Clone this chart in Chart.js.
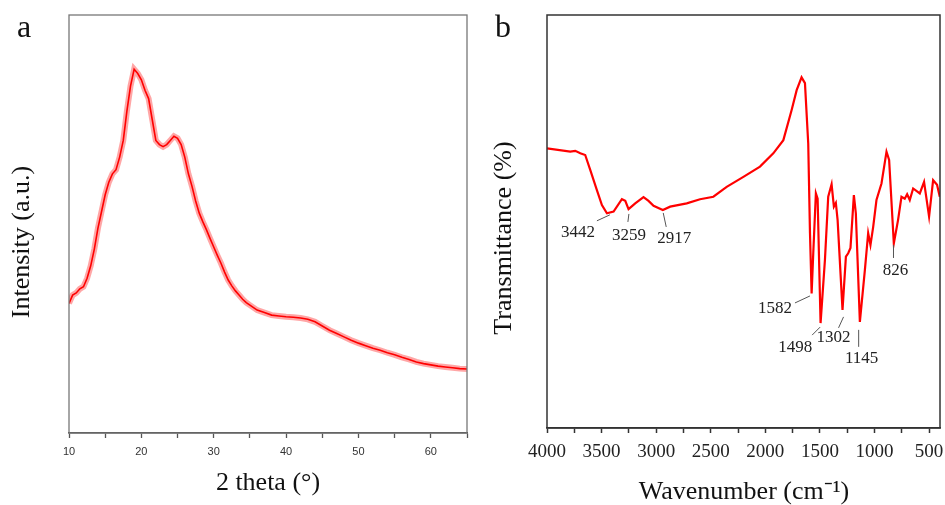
<!DOCTYPE html>
<html lang="en">
<head>
    <meta charset="UTF-8">
    <title>XRD and FTIR</title>
    <script src="https://cdn.jsdelivr.net/npm/chart.js"></script>
    <style>
        body {
            margin: 0;
            padding: 0;
            background: #fff;
        }
        #wrap {
            position: relative;
            width: 945px;
            height: 505px;
        }
        #panel-a, #panel-b {
            position: absolute;
            top: 0;
        }
        #panel-a { left: 0; }
        #panel-b { left: 480px; }
    </style>
</head>
<body>
    <div id="wrap">
        <canvas id="panel-a" width="480" height="505"></canvas>
        <canvas id="panel-b" width="465" height="505"></canvas>
    </div>

    <script>
        // XRD pattern (panel a)
        const xrdAngle = [
            10, 10.5, 11, 11.5, 12, 12.5, 13, 13.5, 14, 14.5, 15, 15.5, 16, 16.5, 17, 17.5,
            18, 18.5, 19, 19.5, 20, 20.5, 21, 21.5, 22, 22.5, 23, 23.5, 24, 24.5, 25, 25.5,
            26, 26.5, 27, 27.5, 28, 28.5, 29, 29.5, 30, 30.5, 31, 31.5, 32, 32.5, 33, 33.5,
            34, 34.5, 35, 35.5, 36, 37, 38, 39, 40, 41, 42, 43, 44, 45, 46, 47, 48, 49, 50,
            51, 52, 53, 54, 55, 56, 57, 58, 59, 60, 61, 62, 63, 64, 65
        ];
        const xrdIntensity = [
            31, 33, 33.5, 34.5, 35, 37, 40, 44, 49, 53, 57, 60, 62, 63, 66, 70,
            77, 83, 87, 86, 84.5, 82, 80, 75, 70, 69, 68.5, 69, 70, 71, 70.5, 69,
            66, 62, 59, 55.5, 52.6, 50.5, 48.6, 46.5, 44.5, 42.5, 40.6, 38.5, 36.6, 35.2, 34, 33,
            32, 31.2, 30.6, 30, 29.4, 28.8, 28.2, 28, 27.8, 27.7, 27.5, 27.2, 26.6, 25.6, 24.6, 23.8, 23, 22.2, 21.5,
            20.9, 20.3, 19.8, 19.2, 18.7, 18.1, 17.6, 17, 16.6, 16.3, 16, 15.8, 15.6, 15.4, 15.3
        ];

        // FTIR spectrum (panel b)
        const ftirWavenumber = [
            4000, 3787, 3741, 3695, 3650, 3604, 3543, 3497, 3451, 3390, 3314, 3283, 3253, 3192,
            3116, 3070, 3024, 2939, 2872, 2720, 2598, 2476, 2354, 2201, 2049, 1927, 1835, 1759,
            1713, 1668, 1637, 1607, 1591, 1576, 1561, 1537, 1521, 1494, 1454, 1424, 1393, 1372,
            1354, 1338, 1293, 1262, 1241, 1220, 1189, 1171, 1134, 1088, 1058, 1037, 1012, 982,
            936, 890, 866, 823, 784, 753, 723, 701, 677, 646, 585, 546, 500, 463, 427, 402
        ];
        const ftirTransmittance = [
            67.7, 66.9, 67.1, 66.5, 66.1, 62.5, 57.6, 54, 52, 52.4, 55.4, 55, 53, 54.4,
            55.9, 55, 53.8, 52.8, 53.6, 54.4, 55.4, 56, 58.4, 60.8, 63.3, 66.5, 69.7, 77,
            81.8, 84.9, 83.5, 68.9, 47.2, 32.6, 42.3, 56.8, 55.5, 25.4, 40.7, 56, 59, 53.6,
            54.5, 50.4, 28.6, 41.5, 42.3, 43.6, 56.4, 52, 25.7, 38.3, 47.2, 44.3, 48.7, 55.2,
            59.2, 66.9, 64.9, 44.7, 50.4, 56, 55.5, 56.6, 55.2, 58, 56.8, 59.6, 51.2, 60, 58.9, 56
        ];

        const peakLabels = ["3442", "3259", "2917", "1582", "1498", "1302", "1145", "826"];
        const peakWavenumbers = [3442, 3259, 2917, 1582, 1498, 1302, 1145, 826];
        const peakValues = [52.1, 52.8, 52.8, 32.7, 25.4, 28.6, 25.7, 44.8];

        const serif = "'Liberation Serif', 'Times New Roman', serif";

        // leader line start/end and label centre, relative to the peak pixel
        const peakLayout = [
            { l1: [2, 2], l2: [-11, 8], t: [-30, 20] },
            { l1: [1, 4], l2: [0, 12], t: [1, 26] },
            { l1: [-2, 3], l2: [1, 17], t: [9, 29] },
            { l1: [-1, 3], l2: [-16, 10], t: [-36, 16] },
            { l1: [0, 4], l2: [-8, 12], t: [-25, 24] },
            { l1: [2, 7], l2: [-3, 18], t: [-8, 28] },
            { l1: [0, 8], l2: [0, 25], t: [3, 37] },
            { l1: [0, 2], l2: [0, 15], t: [2, 28] }
        ];

        function framePlugin(color, width) {
            return {
                id: 'frame',
                afterDraw(chart) {
                    const { ctx, chartArea: a } = chart;
                    ctx.save();
                    ctx.strokeStyle = color;
                    ctx.lineWidth = width;
                    ctx.strokeRect(a.left, a.top, a.right - a.left, a.bottom - a.top);
                    ctx.restore();
                }
            };
        }

        function textPlugin(items) {
            return {
                id: 'texts',
                afterDraw(chart) {
                    const ctx = chart.ctx;
                    ctx.save();
                    ctx.fillStyle = '#111';
                    items.forEach(it => {
                        ctx.save();
                        ctx.font = it.font;
                        ctx.textAlign = it.align || 'center';
                        ctx.textBaseline = 'alphabetic';
                        ctx.translate(it.x, it.y);
                        if (it.rotate) ctx.rotate(it.rotate);
                        ctx.fillText(it.text, 0, 0);
                        ctx.restore();
                    });
                    ctx.restore();
                }
            };
        }

        const peakPlugin = {
            id: 'peaks',
            afterDraw(chart) {
                const { ctx, scales } = chart;
                ctx.save();
                ctx.font = `17px ${serif}`;
                ctx.textAlign = 'center';
                ctx.textBaseline = 'middle';
                peakLabels.forEach((label, i) => {
                    const px = scales.x.getPixelForValue(peakWavenumbers[i]);
                    const py = scales.y.getPixelForValue(peakValues[i]);
                    const p = peakLayout[i];
                    ctx.strokeStyle = '#555';
                    ctx.lineWidth = 1;
                    ctx.beginPath();
                    ctx.moveTo(px + p.l1[0], py + p.l1[1]);
                    ctx.lineTo(px + p.l2[0], py + p.l2[1]);
                    ctx.stroke();
                    ctx.fillStyle = '#222';
                    ctx.fillText(label, px + p.t[0], py + p.t[1]);
                });
                ctx.restore();
            }
        };

        // Panel a: XRD
        const xrdPoints = xrdAngle.map((x, i) => ({ x: x, y: xrdIntensity[i] }));
        new Chart(document.getElementById('panel-a').getContext('2d'), {
            type: 'line',
            data: {
                datasets: [
                    {
                        data: xrdPoints,
                        borderColor: 'rgba(255, 0, 0, 0.35)',
                        borderWidth: 6,
                        pointRadius: 0,
                        tension: 0
                    },
                    {
                        data: xrdPoints,
                        borderColor: '#ff0000',
                        borderWidth: 1.6,
                        pointRadius: 0,
                        tension: 0
                    }
                ]
            },
            options: {
                responsive: false,
                animation: false,
                layout: { padding: { left: 69, right: 13, top: 15, bottom: 0 } },
                plugins: { legend: { display: false }, tooltip: { enabled: false } },
                scales: {
                    x: {
                        type: 'linear',
                        min: 10,
                        max: 65,
                        afterFit: s => { s.height = 72; s.paddingLeft = 0; s.paddingRight = 0; },
                        grid: { drawOnChartArea: false, drawTicks: true, tickLength: 5, color: '#555', tickWidth: 1.3 },
                        border: { display: true, color: '#444', width: 1.5 },
                        ticks: {
                            stepSize: 5,
                            autoSkip: false,
                            maxRotation: 0,
                            padding: 7,
                            color: '#333',
                            font: { family: "'Liberation Sans', Arial, sans-serif", size: 11 },
                            callback: v => (v % 10 === 0 ? v : '')
                        }
                    },
                    y: { display: false, min: 0, max: 100 }
                }
            },
            plugins: [
                framePlugin('#777', 1.3),
                textPlugin([
                    { text: 'a', x: 17, y: 37, font: `32px ${serif}`, align: 'left' },
                    { text: '2 theta (°)', x: 268, y: 490, font: `26px ${serif}` },
                    { text: 'Intensity (a.u.)', x: 29, y: 242, font: `26px ${serif}`, rotate: -Math.PI / 2 }
                ])
            ]
        });

        // Panel b: FTIR
        const ftirPoints = ftirWavenumber.map((x, i) => ({ x: x, y: ftirTransmittance[i] }));
        new Chart(document.getElementById('panel-b').getContext('2d'), {
            type: 'line',
            data: {
                datasets: [{
                    data: ftirPoints,
                    borderColor: '#ff0000',
                    borderWidth: 2.2,
                    pointRadius: 0,
                    tension: 0
                }]
            },
            options: {
                responsive: false,
                animation: false,
                layout: { padding: { left: 67, right: 5, top: 15, bottom: 0 } },
                plugins: { legend: { display: false }, tooltip: { enabled: false } },
                scales: {
                    x: {
                        type: 'linear',
                        reverse: true,
                        min: 400,
                        max: 4000,
                        afterFit: s => { s.height = 77; s.paddingLeft = 0; s.paddingRight = 0; },
                        grid: { drawOnChartArea: false, drawTicks: true, tickLength: 5, color: '#333', tickWidth: 1.5 },
                        border: { display: true, color: '#333', width: 1.5 },
                        ticks: {
                            stepSize: 250,
                            includeBounds: false,
                            autoSkip: false,
                            maxRotation: 0,
                            padding: 8,
                            color: '#222',
                            font: { family: serif, size: 19 },
                            callback: v => (v % 500 === 0 ? v : '')
                        }
                    },
                    y: { display: false, min: 0, max: 100 }
                }
            },
            plugins: [
                framePlugin('#333', 1.5),
                peakPlugin,
                textPlugin([
                    { text: 'b', x: 15, y: 37, font: `32px ${serif}`, align: 'left' },
                    { text: 'Wavenumber (cm⁻¹)', x: 264, y: 499, font: `26px ${serif}` },
                    { text: 'Transmittance (%)', x: 31, y: 238, font: `26px ${serif}`, rotate: -Math.PI / 2 }
                ])
            ]
        });
    </script>
</body>
</html>
